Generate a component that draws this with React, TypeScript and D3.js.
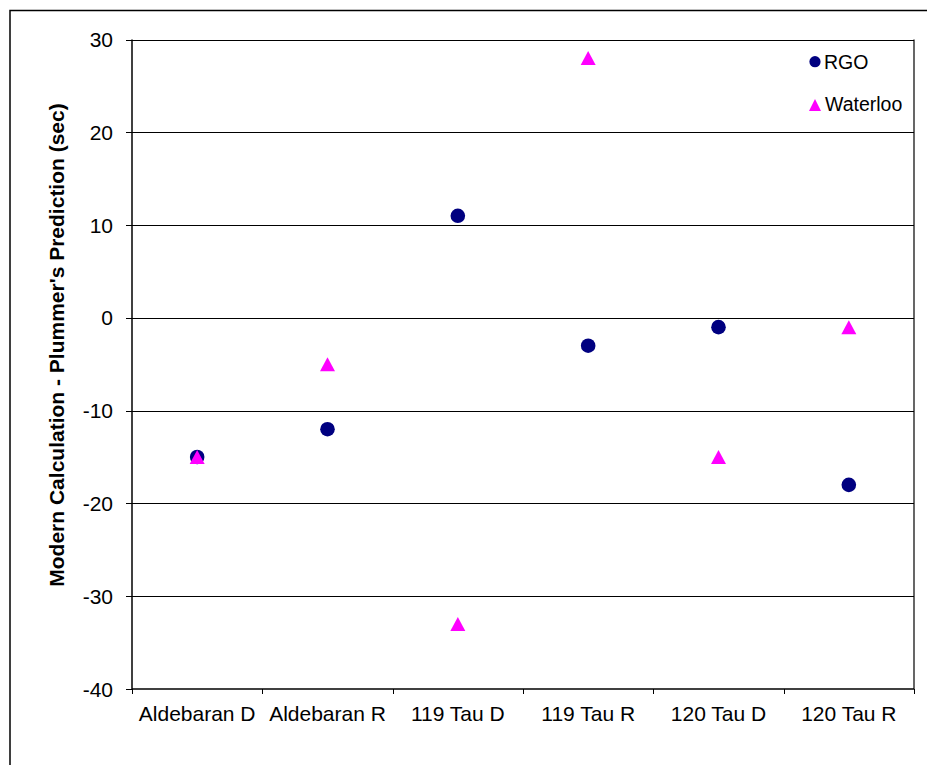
import React from "react";
import * as d3 from "d3";

const categories = ["Aldebaran D", "Aldebaran R", "119 Tau D", "119 Tau R", "120 Tau D", "120 Tau R"];
const rgoValues = [-15, -12, 11, -3, -1, -18];
const waterlooValues = [-15, -5, -33, 28, -15, -1];
const yTicks = [-40, -30, -20, -10, 0, 10, 20, 30];

function triPath(w: number, h: number) {
  const p = d3.path();
  p.moveTo(0, -h / 2);
  p.lineTo(w / 2, h / 2);
  p.lineTo(-w / 2, h / 2);
  p.closePath();
  return p.toString();
}

export default function App() {
  const W = 927, H = 765;
  const left = 132, right = 914, top = 39.5, bottom = 689;
  const x = d3.scaleBand().domain(categories).range([left, right]);
  const y = d3.scaleLinear().domain([-40, 30]).range([bottom, top]);
  const font = "Arial, 'Liberation Sans', sans-serif";
  const cx = (c: string) => (x(c) as number) + x.bandwidth() / 2;
  return (
    <svg width={W} height={H} style={{ position: "absolute", left: 0, top: 0 }} fontFamily={font}>
      <rect x={0} y={0} width={W} height={H} fill="#fff" />
      <rect x={10} y={10.5} width={W + 10} height={H + 10} fill="none" stroke="#000" strokeWidth={1.5} />
      {yTicks.map((t) => (
        <g key={t}>
          {t > -40 && (
            <line x1={left} x2={right} y1={Math.round(y(t)) + 0.5} y2={Math.round(y(t)) + 0.5} stroke="#000" strokeWidth={1} />
          )}
          <line x1={left - 6} x2={left} y1={Math.round(y(t)) + 0.5} y2={Math.round(y(t)) + 0.5} stroke="#000" strokeWidth={1} />
          <text x={113} y={y(t) + 7.5} textAnchor="end" fontSize={21} fill="#000">{t}</text>
        </g>
      ))}
      <line x1={right} x2={right} y1={top} y2={bottom} stroke="#000" strokeWidth={1.2} />
      <line x1={left} x2={left} y1={top} y2={bottom} stroke="#000" strokeWidth={1.5} />
      <line x1={left} x2={right} y1={bottom} y2={bottom} stroke="#000" strokeWidth={1.5} />
      {[...categories.map((c) => x(c) as number), right].map((v, i) => (
        <line key={i} x1={Math.round(v) + 0.5} x2={Math.round(v) + 0.5} y1={bottom} y2={bottom + 5} stroke="#000" strokeWidth={1} />
      ))}
      {categories.map((c) => (
        <text key={c} x={cx(c)} y={721} textAnchor="middle" fontSize={21} fill="#000">{c}</text>
      ))}
      <text transform={`translate(64,345) rotate(-90)`} textAnchor="middle" fontSize={21} fontWeight="bold" fill="#000">
        Modern Calculation - Plummer's Prediction (sec)
      </text>
      {categories.map((c, i) => (
        <circle key={"r" + c} cx={cx(c)} cy={y(rgoValues[i])} r={7.3} fill="#000080" />
      ))}
      {categories.map((c, i) => (
        <path key={"w" + c} d={triPath(15, 14)} transform={`translate(${cx(c)},${y(waterlooValues[i])})`} fill="#ff00ff" />
      ))}
      <circle cx={815} cy={61.7} r={5.6} fill="#000080" />
      <text x={824} y={69} fontSize={19.5} fill="#000">RGO</text>
      <path d={triPath(12, 12)} transform="translate(815,105)" fill="#ff00ff" />
      <text x={825} y={111} fontSize={19.5} fill="#000">Waterloo</text>
    </svg>
  );
}
